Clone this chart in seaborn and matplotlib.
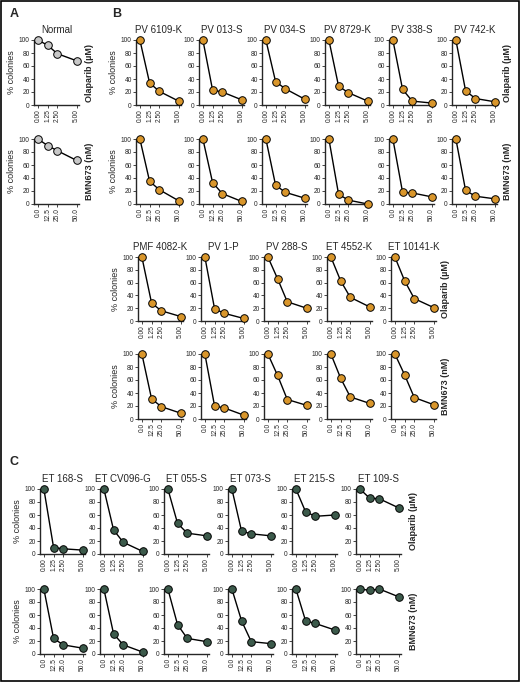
import matplotlib
matplotlib.use("Agg")
import matplotlib.pyplot as plt
import seaborn as sns
import pandas as pd

sns.set_style("ticks")
plt.rcParams['font.family'] = ['Liberation Sans', 'DejaVu Sans']

# doses
ola_doses = [0.0, 1.25, 2.5, 5.0]
bmn_doses = [0.0, 12.5, 25.0, 50.0]
ola_ticks = ["0.00", "1.25", "2.50", "5.00"]
bmn_ticks = ["0.0", "12.5", "25.0", "50.0"]

# panel A
a_names = ["Normal"]
a_ola = [[100, 92, 79, 68]]
a_bmn = [[100, 90, 82, 67]]

# panel B, first block
b1_names = ["PV 6109-K", "PV 013-S", "PV 034-S", "PV 8729-K", "PV 338-S", "PV 742-K"]
b1_ola = [[100, 34, 21, 6], [100, 23, 20, 8], [100, 36, 25, 9],
          [100, 29, 19, 6], [100, 24, 6, 3], [100, 22, 10, 5]]
b1_bmn = [[100, 35, 22, 5], [100, 33, 16, 4], [100, 29, 18, 9],
          [100, 15, 6, 0], [100, 18, 17, 11], [100, 21, 12, 8]]

# panel B, second block
b2_names = ["PMF 4082-K", "PV 1-P", "PV 288-S", "ET 4552-K", "ET 10141-K"]
b2_ola = [[100, 28, 16, 7], [100, 19, 12, 4], [100, 66, 30, 20],
          [100, 63, 37, 22], [100, 63, 35, 21]]
b2_bmn = [[100, 31, 19, 9], [100, 20, 17, 6], [100, 67, 30, 21],
          [100, 63, 34, 24], [100, 68, 33, 22]]

# panel C
c_names = ["ET 168-S", "ET CV096-G", "ET 055-S", "ET 073-S", "ET 215-S", "ET 109-S"]
c_ola = [[100, 10, 8, 6], [100, 37, 18, 4], [100, 47, 32, 28],
         [100, 35, 31, 28], [100, 65, 58, 60], [100, 86, 85, 71]]
c_bmn = [[100, 24, 14, 9], [100, 31, 14, 3], [100, 45, 24, 19],
         [100, 51, 19, 16], [100, 51, 47, 37], [100, 98, 100, 88]]

W, H = 520, 682
fig = plt.figure(figsize=(W / 100, H / 100), dpi=100)
fig.patches.append(plt.Rectangle((0.002, 0.002), 0.996, 0.996, transform=fig.transFigure,
                                 fill=False, edgecolor="black", linewidth=1.2))


def make_ax(left, top100, bottom0, width=45):
    # pixel coords -> figure coords; y top is 100, bottom is 0
    return fig.add_axes([left / W, 1 - bottom0 / H, width / W, (bottom0 - top100) / H])


def draw(ax, doses, vals, ticks, color, title=None, ylabel=False):
    df = pd.DataFrame({"dose": doses, "pct": vals})
    sns.lineplot(data=df, x="dose", y="pct", ax=ax, color="black", linewidth=1.0)
    ax.scatter(df["dose"], df["pct"], s=30, color=color, edgecolor="black",
               linewidth=0.7, zorder=3, clip_on=False)
    m = doses[-1]
    ax.set_xlim(-0.1 * m, 1.06 * m)
    ax.set_ylim(0, 100)
    ax.set_xticks(doses)
    ax.set_xticklabels(ticks, rotation=90, fontsize=4.8)
    ax.set_yticks([0, 20, 40, 60, 80, 100])
    ax.tick_params(axis="y", labelsize=4.8, length=2, width=0.6, pad=1)
    ax.tick_params(axis="x", length=2, width=0.6, pad=1)
    ax.set_xlabel("")
    ax.set_ylabel("% colonies" if ylabel else "", fontsize=6.5, labelpad=2)
    for s in ["top", "right"]:
        ax.spines[s].set_visible(False)
    for s in ["left", "bottom"]:
        ax.spines[s].set_linewidth(1.0)
    if title:
        ax.set_title(title, fontsize=7, pad=5)


def block(names, ola, bmn, lefts, rows, color, right_x):
    for i, n in enumerate(names):
        ax = make_ax(lefts[i], rows[0][0], rows[0][1])
        draw(ax, ola_doses, ola[i], ola_ticks, color, title=n, ylabel=(i == 0))
        ax = make_ax(lefts[i], rows[1][0], rows[1][1])
        draw(ax, bmn_doses, bmn[i], bmn_ticks, color, ylabel=(i == 0))
    for (t, b), lab in zip(rows, ["Olaparib (\u00b5M)", "BMN673 (nM)"]):
        fig.text(right_x / W, 1 - (t + b) / 2 / H, lab, rotation=90, fontsize=6.5,
                 fontweight="bold", ha="center", va="center")


grey = "#c8c8c8"
orange = "#d9962b"
green = "#3c5a4b"

block(a_names, a_ola, a_bmn, [34], [(40, 105), (139, 204)], grey, 90)
block(b1_names, b1_ola, b1_bmn, [136, 199, 262, 325, 389, 452],
      [(40, 105), (139, 204)], orange, 508)
block(b2_names, b2_ola, b2_bmn, [138, 201, 264, 327, 391],
      [(257, 321), (354, 419)], orange, 446)
block(c_names, c_ola, c_bmn, [40, 100, 164, 228, 292, 356],
      [(489, 554), (589, 654)], green, 414)

for lab, x, y in [("A", 10, 14), ("B", 112, 14), ("C", 10, 462)]:
    fig.text(x / W, 1 - y / H, lab, fontsize=9, fontweight="bold", va="center")

fig.savefig("out.png", dpi=100)
